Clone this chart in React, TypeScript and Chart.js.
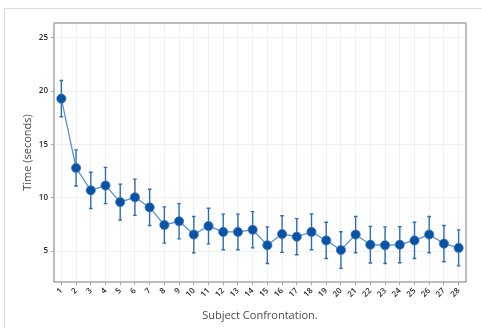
import React, { useEffect, useRef } from "react";
import { Chart, registerables } from "chart.js";

Chart.register(...registerables);

const categories = ["1","2","3","4","5","6","7","8","9","10","11","12","13","14","15","16","17","18","19","20","21","22","23","24","25","26","27","28"];
const meanTimes = [19.3, 12.8, 10.7, 11.15, 9.6, 10.05, 9.1, 7.45, 7.8, 6.55, 7.35, 6.8, 6.8, 7.0, 5.55, 6.6, 6.35, 6.8, 6.0, 5.1, 6.55, 5.6, 5.55, 5.6, 6.0, 6.55, 5.7, 5.3];
const errorSizes = [1.7, 1.7, 1.7, 1.7, 1.68, 1.7, 1.7, 1.7, 1.65, 1.7, 1.67, 1.67, 1.67, 1.7, 1.72, 1.72, 1.7, 1.68, 1.7, 1.72, 1.7, 1.72, 1.72, 1.69, 1.7, 1.7, 1.7, 1.69];
const yTickValues = [5, 10, 15, 20, 25];
const yMin = 2.1;
const yMax = 26.4;

const errorBarPlugin = {
  id: "errorBars",
  beforeDatasetsDraw(chart: any) {
    const { ctx, scales } = chart;
    const x = scales.x;
    const y = scales.y;
    ctx.save();
    ctx.strokeStyle = "#2d6cb8";
    ctx.lineWidth = 1.4;
    meanTimes.forEach((m, i) => {
      const px = x.getPixelForValue(i);
      const top = y.getPixelForValue(m + errorSizes[i]);
      const bot = y.getPixelForValue(m - errorSizes[i]);
      ctx.beginPath();
      ctx.moveTo(px, top);
      ctx.lineTo(px, bot);
      ctx.moveTo(px - 1.8, top);
      ctx.lineTo(px + 1.8, top);
      ctx.moveTo(px - 1.8, bot);
      ctx.lineTo(px + 1.8, bot);
      ctx.stroke();
    });
    ctx.restore();
  },
};

const frameBorderPlugin = {
  id: "frameBorder",
  afterDraw(chart: any) {
    const { ctx, chartArea } = chart;
    ctx.save();
    ctx.strokeStyle = "#9a9a9a";
    ctx.lineWidth = 1.3;
    ctx.strokeRect(chartArea.left, chartArea.top, chartArea.right - chartArea.left, chartArea.bottom - chartArea.top);
    ctx.restore();
  },
};

export default function App() {
  const canvasRef = useRef<HTMLCanvasElement | null>(null);

  useEffect(() => {
    if (!canvasRef.current) return;
    Chart.defaults.font.family = "'Open Sans', sans-serif";
    const chart = new Chart(canvasRef.current, {
      type: "line",
      data: {
        labels: categories,
        datasets: [
          {
            data: meanTimes,
            borderColor: "#5b90cf",
            borderWidth: 1.3,
            backgroundColor: "#0a52a3",
            pointBackgroundColor: "#0a52a3",
            pointBorderColor: "#3f78c0",
            pointBorderWidth: 0.8,
            pointRadius: 4.6,
            tension: 0,
          },
        ],
      },
      options: {
        animation: false,
        responsive: false,
        maintainAspectRatio: false,
        layout: { padding: { top: 23, right: 16, left: 0, bottom: 0 } },
        plugins: { legend: { display: false }, tooltip: { enabled: false } },
        scales: {
          x: {
            type: "category",
            offset: true,
            grid: { offset: false, color: "#f0f0f0", lineWidth: 1, drawTicks: true, tickLength: 3, tickColor: "#aaaaaa" },
            border: { display: false },
            ticks: { maxRotation: 45, minRotation: 45, autoSkip: false, padding: 1, color: "#2a2a2a", font: { size: 8, weight: "600" } },
            title: { display: true, text: "Subject Confrontation.", color: "#4a4a4a", font: { size: 11, weight: "500" }, padding: { top: 0, bottom: 6 } },
            afterFit: (scale: any) => { scale.height = 46; },
          },
          y: {
            min: yMin,
            max: yMax,
            grid: { color: "#f0f0f0", lineWidth: 1, drawTicks: true, tickLength: 3, tickColor: "#aaaaaa" },
            border: { display: false },
            ticks: { padding: 3, color: "#2a2a2a", font: { size: 8, weight: "600" } },
            afterBuildTicks: (scale: any) => { scale.ticks = yTickValues.map((v) => ({ value: v })); },
            title: { display: true, text: "Time (seconds)", color: "#4a4a4a", font: { size: 11, weight: "500" }, padding: { top: 21, bottom: 0 } },
            afterFit: (scale: any) => { scale.width = 54; },
          },
        },
      },
      plugins: [errorBarPlugin, frameBorderPlugin],
    } as any);
    return () => chart.destroy();
  }, []);

  return (
    <div style={{ position: "fixed", left: 0, top: 0, width: 482, height: 328, background: "#ffffff", overflow: "hidden" }}>
      <div style={{ position: "absolute", left: 4, top: 8, width: 600, height: 600, borderTop: "1px solid #dddddd", borderLeft: "1px solid #dddddd" }} />
      <canvas ref={canvasRef} width={482} height={328} style={{ position: "absolute", left: 0, top: 0, width: 482, height: 328 }} />
    </div>
  );
}
